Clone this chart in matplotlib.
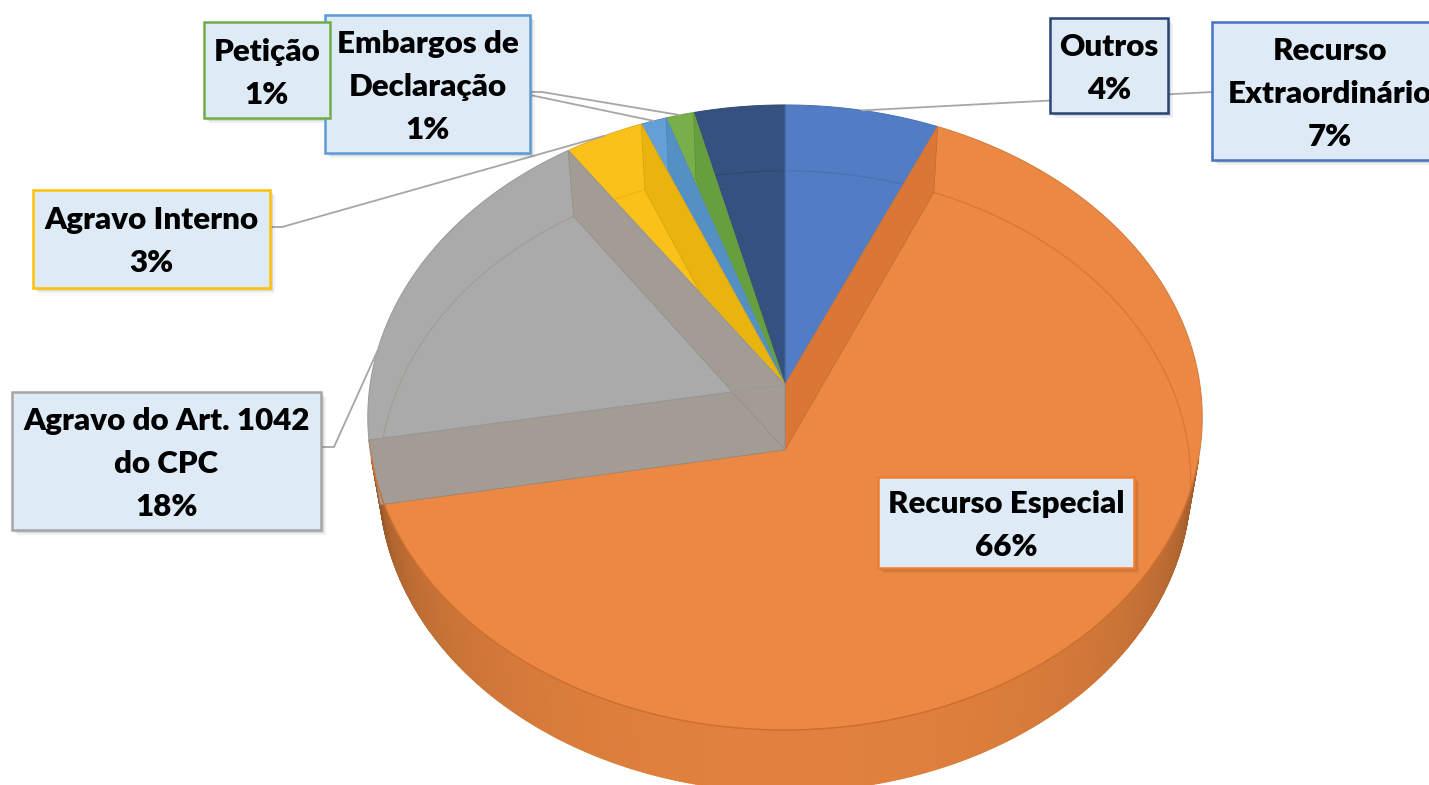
import numpy as np
import matplotlib
matplotlib.use("Agg")
import matplotlib.pyplot as plt
from matplotlib.patches import Polygon, Rectangle
from matplotlib.collections import PolyCollection
from matplotlib.colors import to_rgb

plt.rcParams['font.family'] = ['Lato', 'DejaVu Sans']

# ── dados ────────────────────────────────────────────────────────────────
categories = ["Recurso Extraordinário", "Recurso Especial",
              "Agravo do Art. 1042 do CPC", "Agravo Interno",
              "Embargos de Declaração", "Petição", "Outros"]
values = [6.6, 65.6, 18.2, 3.4, 1.1, 1.2, 3.9]
label_text = ["Recurso\nExtraordinário", "Recurso Especial",
              "Agravo do Art. 1042\ndo CPC", "Agravo Interno",
              "Embargos de\nDeclaração", "Petição", "Outros"]

top_colors = ['#527DC5', '#EB8843', '#AAAAAA', '#FAC11B', '#62A0D7', '#77B04B', '#35517F']
band_colors = ['#4A72B5', '#DA7636', '#A39C94', '#EAB40F', '#5590C4', '#66A03E', '#2E4873']
border_colors = ['#4472C4', '#ED7D31', '#A5A5A5', '#FFC000', '#5B9BD5', '#70AD47', '#264478']

# ── layout (pixels) ──────────────────────────────────────────────────────
W, Hpx = 1429, 785
boxes = [(1212, 22, 1445, 160), (878, 477, 1134, 568), (12, 392, 321, 530),
         (33, 190, 270, 288), (325, 15, 530, 153), (204, 22, 330, 118),
         (1050, 18, 1168, 113)]
box_text_x = [1330, None, None, None, None, None, None]
leader_frac = [0.5, None, 0.25, 0.5, 0.5, 0.5, None]
leader_start = [[(1212, 92)], None, [(321, 447), (334, 447)],
                [(270, 227), (282, 227)], [(530, 95)],
                [(420, 91), (542, 92)], None]
draw_order = [6, 5, 4, 3, 0, 1, 2]

# ── câmera / projeção ────────────────────────────────────────────────────
CX, CY = 785.0, 385.0
F, D, SINP, COSP, DEPTH = 2664.0, 6.42, 0.745, 0.667, 0.241


def proj(theta, r=1.0, z=0.0):
    t = np.radians(theta)
    x = r * np.sin(t)
    y = -r * np.cos(t)
    up = -y * SINP + z * COSP
    dep = y * COSP + z * SINP
    w = D - dep
    return CX + F * x / w, CY - F * up / w


def arc(t1, t2, z=0.0):
    n = max(2, int(abs(t2 - t1) * 2) + 2)
    ts = np.linspace(t1, t2, n)
    xs, ys = proj(ts, 1.0, z)
    return np.column_stack([xs, ys])


def shade(color, k):
    r, g, b = to_rgb(color)
    return (r * k, g * k, b * k)


total = sum(values)
edges = np.concatenate([[0], np.cumsum(values)]) / total * 360

fig = plt.figure(figsize=(W / 100, Hpx / 100), dpi=100)
ax = fig.add_axes([0, 0, 1, 1])
ax.set_xlim(0, W)
ax.set_ylim(Hpx, 0)
ax.axis('off')

# ── parede externa visível ───────────────────────────────────────────────
vcut = 1.0 / (D * COSP)
lo = np.degrees(np.arccos(-vcut))
hi = 360 - lo
ts = np.linspace(lo, hi, 500)
polys, cols = [], []
for a, b in zip(ts[:-1], ts[1:]):
    mid = 0.5 * (a + b)
    v = -np.cos(np.radians(mid))
    k = 0.64 + 0.33 * ((v - vcut) / (1 - vcut)) ** 0.6
    x1, y1 = proj(a, 1, 0)
    x2, y2 = proj(b, 1, 0)
    x3, y3 = proj(b, 1, -DEPTH)
    x4, y4 = proj(a, 1, -DEPTH)
    polys.append([(x1, y1), (x2, y2), (x3, y3), (x4, y4)])
    cols.append(shade('#E8853F', k))
wall = PolyCollection(polys, facecolors=cols, edgecolors=cols, linewidths=0.8, zorder=1)
ax.add_collection(wall)

# ── fatias ───────────────────────────────────────────────────────────────
z = 2.0
for i in draw_order:
    t1, t2 = edges[i], edges[i + 1]
    c0 = proj(0, 0, 0)
    top = np.vstack([[c0], arc(t1, t2, 0)])
    base = Polygon(top, closed=True, fc=top_colors[i], ec='none', zorder=z)
    ax.add_patch(base)

    # aro inferior visto por transparência
    bot = arc(t1, t2, -DEPTH)
    ln, = ax.plot(bot[:, 0], bot[:, 1], color=band_colors[i], lw=0.9, zorder=z + 0.01)
    ln.set_clip_path(base)

    # faces radiais
    for tb in (t1, t2):
        face = [proj(tb, 0, 0), proj(tb, 1, 0), proj(tb, 1, -DEPTH), proj(tb, 0, -DEPTH)]
        ax.add_patch(Polygon(face, closed=True, fc=band_colors[i],
                             ec=shade(band_colors[i], 0.9), lw=0.5, zorder=z + 0.02))

    # contorno
    ax.add_patch(Polygon(top, closed=True, fc='none',
                         ec=shade(top_colors[i], 0.9), lw=0.7, zorder=z + 0.03))
    z += 0.1

# borda frontal do topo
rim = arc(lo, hi, 0)
ax.plot(rim[:, 0], rim[:, 1], color='#CF6E2E', lw=1.0, zorder=z)

# ── linhas de chamada ────────────────────────────────────────────────────
for i in range(len(values)):
    if leader_frac[i] is None:
        continue
    ta = edges[i] + leader_frac[i] * (edges[i + 1] - edges[i])
    ex, ey = proj(ta, 1, 0)
    pts = leader_start[i] + [(ex, ey)]
    xs, ys = zip(*pts)
    ax.plot(xs, ys, color='#A6A6A6', lw=1.3, zorder=8)

# ── rótulos ──────────────────────────────────────────────────────────────
for i in range(len(values)):
    x0, y0, x1, y1 = boxes[i]
    for off, al in ((5, 0.06), (3, 0.10)):
        ax.add_patch(Rectangle((x0 + off, y0 + off), x1 - x0, y1 - y0,
                               fc='#000000', ec='none', alpha=al, zorder=9))
    ax.add_patch(Rectangle((x0, y0), x1 - x0, y1 - y0, fc='#DEEBF7',
                           ec=border_colors[i], lw=1.8, zorder=10))
    lines = label_text[i].split("\n") + ["%.0f%%" % (values[i] / total * 100)]
    cx = box_text_x[i] if box_text_x[i] is not None else 0.5 * (x0 + x1)
    cy = 0.5 * (y0 + y1) + 1
    n = len(lines)
    for j, s in enumerate(lines):
        yc = cy + (j - (n - 1) / 2) * 43
        ax.text(cx, yc + 11, s, ha='center', va='baseline', fontsize=22.5,
                fontweight='heavy', color='#000000', zorder=11)

fig.savefig("out.png", dpi=100)
